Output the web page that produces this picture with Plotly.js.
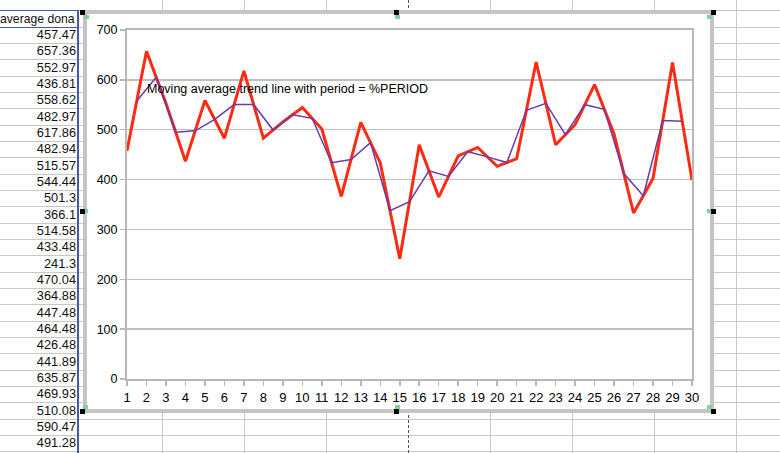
<!DOCTYPE html>
<html>
<head>
<meta charset="utf-8">
<script src="https://cdn.plot.ly/plotly-3.0.1.min.js"></script>
<style>
  html, body { margin:0; padding:0; background:#fff; }
  body { width:780px; height:453px; position:relative; overflow:hidden; font-family:"Liberation Sans", Arial, sans-serif; }
  .hl { position:absolute; height:1px; background:#c8c8c8; }
  .vl { position:absolute; width:1px; background:#c8c8c8; }
  .cell { position:absolute; left:0; width:76px; text-align:right; font-size:12.8px; color:#111; line-height:16px; white-space:nowrap; overflow:hidden; }
  .head { position:absolute; left:0; top:11px; font-size:12.2px; color:#111; line-height:16px; white-space:nowrap; }
  .frame { position:absolute; left:83px; top:9.5px; width:623px; height:395px; border:4px solid #c4c4c4; background:#fff; }
  .hdl { position:absolute; width:5px; height:5px; background:#000; }
  .grn { position:absolute; width:5px; height:4px; background:#7fd49a; }
</style>
</head>
<body>
<div id="sheet"></div>
<div class="frame"></div>
<div id="chart" style="position:absolute; left:87px; top:13.5px; width:623px; height:395px;"></div>
<div id="handles"></div>
<script>
// ---- data ----
const columnHeader = "average dona";
const days = [1,2,3,4,5,6,7,8,9,10,11,12,13,14,15,16,17,18,19,20,21,22,23,24,25,26,27,28,29,30];
const donations = [457.47,657.36,552.97,436.81,558.62,482.97,617.86,482.94,515.57,544.44,501.3,366.1,514.58,433.48,241.3,470.04,364.88,447.48,464.48,426.48,441.89,635.87,469.93,510.08,590.47,491.28,333,402,635,399];
const visibleCells = [457.47,657.36,552.97,436.81,558.62,482.97,617.86,482.94,515.57,544.44,501.3,366.1,514.58,433.48,241.3,470.04,364.88,447.48,464.48,426.48,441.89,635.87,469.93,510.08,590.47,491.28];
const trendX = [1.5,2.5,3.5,4.5,5.5,6.5,7.5,8.5,9.5,10.5,11.5,12.5,13.5,14.5,15.5,16.5,17.5,18.5,19.5,20.5,21.5,22.5,23.5,24.5,25.5,26.5,27.5,28.5,29.5];
const trendValues = [557.42,605.17,494.89,497.72,520.80,550.42,550.40,499.26,530.01,522.87,433.70,440.34,474.03,337.39,355.67,417.46,406.18,455.98,445.48,434.19,538.88,552.90,490.01,550.28,540.88,412.14,367.5,518.5,517];
const trendLabel = "Moving average trend line with period = %PERIOD";
const yTicks = [0,100,200,300,400,500,600,700];

// ---- spreadsheet background ----
const sheet = document.getElementById('sheet');
function add(cls, style, text) {
  const d = document.createElement('div');
  d.className = cls;
  Object.assign(d.style, style);
  if (text !== undefined) d.textContent = text;
  sheet.appendChild(d);
  return d;
}
const rowH = 16.33, row0 = 10.33;
for (let k = 0; k <= 27; k++) {
  add('hl', {left:'0px', width:'780px', top:(row0 + rowH*k)+'px'});
}
[162,244,326,490,572,654,736].forEach(x => add('vl', {left:x+'px', top:'0px', height:'453px'}));
// page break (dashed)
add('vl', {left:'407.5px', top:'0px', height:'453px', background:'none', borderLeft:'1px dashed #555', width:'0px'});
// left column cells
add('head', {}, columnHeader);
visibleCells.forEach((v, i) => {
  add('cell', {top:(row0 + rowH*(i+1) + 0.5)+'px'}, String(v));
});
// selection box (blue)
add('vl', {left:'77px', width:'2px', top:'9.5px', height:'444px', background:'#4a58a8'});
add('hl', {left:'0px', width:'79px', top:'9.5px', background:'#4a58a8'});
add('hl', {left:'0px', width:'79px', top:(row0+rowH)+'px', background:'#4a58a8'});

// ---- chart ----
const traces = [
  {x: days, y: donations, type:'scatter', mode:'lines', line:{color:'#ff2a12', width:3}, hoverinfo:'skip', cliponaxis:false},
  {x: trendX, y: trendValues, type:'scatter', mode:'lines', line:{color:'#6a3aa8', width:1.5}, hoverinfo:'skip'}
];
const layout = {
  width:623, height:395,
  margin:{l:39.5, r:18, t:15.8, b:29.7, pad:0},
  paper_bgcolor:'#fff', plot_bgcolor:'#fff',
  showlegend:false,
  font:{family:'"Liberation Sans", Arial, sans-serif', color:'#000', size:12},
  xaxis:{range:[1,30], tickmode:'array', tickvals:days, ticktext:days.map(String),
    showgrid:false, zeroline:false, showline:true, mirror:true, linecolor:'#b8b8b8', linewidth:2,
    ticks:'outside', ticklen:5, tickwidth:1.5, tickcolor:'#b8b8b8', tickfont:{size:13, color:'#000'}, fixedrange:true},
  yaxis:{range:[0,700], tickmode:'array', tickvals:yTicks, ticktext:yTicks.map(String),
    showgrid:true, gridcolor:'#c0c0c0', gridwidth:1.5, zeroline:false, showline:true, mirror:true,
    linecolor:'#b8b8b8', linewidth:2, ticks:'outside', ticklen:5, tickwidth:1.5, tickcolor:'#b8b8b8',
    tickfont:{size:12.5, color:'#000'}, fixedrange:true},
  annotations:[{x:2.0, y:582, xref:'x', yref:'y', xanchor:'left', yanchor:'middle', showarrow:false,
    text:trendLabel, font:{size:12.5, color:'#000'}, borderpad:0}]
};
Plotly.newPlot('chart', traces, layout, {displayModeBar:false, staticPlot:true});

// ---- selection handles ----
const hd = document.getElementById('handles');
function hnd(cls, x, y) {
  const d = document.createElement('div'); d.className = cls;
  d.style.left = x+'px'; d.style.top = y+'px'; hd.appendChild(d);
}
[[84,15],[395,14.5],[707,15],[83,209],[707,209],[83,405],[395,404.5],[707,405]].forEach(p => hnd('grn', p[0], p[1]));
[[80,9.5],[394,9.5],[710.5,9.5],[80,209],[710.5,209],[80,408.5],[394,409],[710.5,409]].forEach(p => hnd('hdl', p[0], p[1]));
</script>
</body>
</html>
